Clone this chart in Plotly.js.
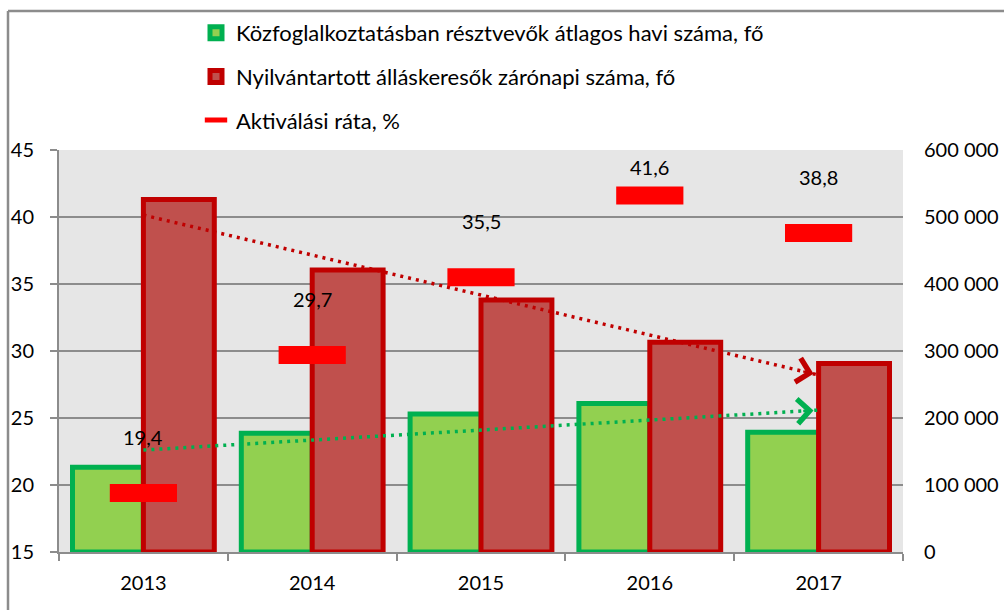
<!DOCTYPE html>
<html>
<head>
<meta charset="utf-8">
<script src="https://cdn.plot.ly/plotly-3.0.1.min.js"></script>
<style>
  html, body { margin: 0; padding: 0; background: #ffffff; }
  #chart { width: 1004px; height: 610px; }
</style>
</head>
<body>
<div id="chart"></div>
<script>
// ---- data ----
const years = ['2013', '2014', '2015', '2016', '2017'];
const publicWorkers = [126400, 177100, 206000, 221800, 178600];   // Közfoglalkoztatásban résztvevők átlagos havi száma, fő
const jobseekers = [526000, 421000, 376000, 313000, 281500];      // Nyilvántartott álláskeresők zárónapi száma, fő
const activationRate = [19.4, 29.7, 35.5, 41.6, 38.8];            // Aktiválási ráta, %
const seriesNames = [
  'Közfoglalkoztatásban résztvevők átlagos havi száma, fő',
  'Nyilvántartott álláskeresők zárónapi száma, fő',
  'Aktiválási ráta, %'
];
const leftTicks = [15, 20, 25, 30, 35, 40, 45];
const rightTicks = [0, 100000, 200000, 300000, 400000, 500000, 600000];

// ---- layout geometry ----
const W = 1004, H = 610;
const M = { l: 59, r: 101, t: 150, b: 58 };
const plotW = W - M.l - M.r, plotH = H - M.t - M.b;
const pxX = px => (px - M.l) / plotW;
const pxY = py => (H - M.b - py) / plotH;
const leftRange = [15, 45];

const FONT = 'Lato, "Open Sans", "Noto Sans", sans-serif';
const GRID = '#8c8c8c';

// linear trend (least squares over category index), as the spreadsheet trendline
function linFit(vals) {
  const n = vals.length;
  const xs = vals.map((_, i) => i);
  const mx = xs.reduce((a, b) => a + b, 0) / n;
  const my = vals.reduce((a, b) => a + b, 0) / n;
  let sxy = 0, sxx = 0;
  xs.forEach((x, i) => { sxy += (x - mx) * (vals[i] - my); sxx += (x - mx) * (x - mx); });
  const k = sxy / sxx;
  return x => my + k * (x - mx);
}
const greenFit = linFit(publicWorkers);
const redFit = linFit(jobseekers);

const BAR_W = 0.42;

// counts (bars, trendlines) on primary axis 'y' (drawn on the right side);
// activation rate on overlaying axis 'y2' (left side) so its marks sit on top
const traces = [
  {
    type: 'bar', name: seriesNames[0], x: years, y: publicWorkers, yaxis: 'y',
    width: BAR_W, offset: -BAR_W,
    marker: { color: '#92d050', line: { color: '#00b050', width: 5 } },
    legendgroup: 'a', hoverinfo: 'x+y'
  },
  {
    type: 'bar', name: seriesNames[1], x: years, y: jobseekers, yaxis: 'y',
    width: BAR_W, offset: 0,
    marker: { color: '#c0504d', line: { color: '#c00000', width: 5 } },
    legendgroup: 'b', hoverinfo: 'x+y'
  },
  {
    type: 'scatter', mode: 'lines', x: years, y: years.map((_, i) => redFit(i)), yaxis: 'y',
    line: { color: '#c00000', width: 3.5, dash: '3px,5px' }, showlegend: false, hoverinfo: 'skip'
  },
  {
    type: 'scatter', mode: 'lines', x: years, y: years.map((_, i) => greenFit(i)), yaxis: 'y',
    line: { color: '#00b050', width: 3.5, dash: '3px,5px' }, showlegend: false, hoverinfo: 'skip'
  },
  {
    type: 'scatter', mode: 'markers', name: seriesNames[2], x: years, y: activationRate, yaxis: 'y2',
    marker: { symbol: 'line-ew', size: 48, color: '#ff0000', line: { color: '#ff0000', width: 18 } },
    legendgroup: 'c', hoverinfo: 'x+y'
  }
];

// value labels for the activation rate
const pxPerUnit = plotH / (leftRange[1] - leftRange[0]);
const annotations = activationRate.map((v, i) => {
  const distTop = (leftRange[1] - v) * pxPerUnit;
  const shift = Math.min(56, distTop - 17);
  return {
    x: i, y: v, xref: 'x', yref: 'y2', yshift: shift,
    text: v.toFixed(1).replace('.', ','), showarrow: false,
    font: { family: FONT, size: 20, color: '#000000' }
  };
});

// arrow heads at the end of the trendlines
const tipX = years.length - 1 - 0.03, tailX = years.length - 1 - 0.1;
[[redFit, '#c00000'], [greenFit, '#00b050']].forEach(([f, c]) => {
  annotations.push({
    x: tipX, y: f(tipX), xref: 'x', yref: 'y',
    ax: tailX, ay: f(tailX), axref: 'x', ayref: 'y',
    showarrow: true, arrowhead: 4, arrowsize: 1.9, arrowwidth: 2.5, arrowcolor: c, text: ''
  });
});

// outer chart frame (left and top edges are visible)
const shapes = [
  { type: 'line', xref: 'paper', yref: 'paper', x0: pxX(8), x1: pxX(8), y0: pxY(630), y1: pxY(11),
    line: { color: '#8c8c8c', width: 2.5 } },
  { type: 'line', xref: 'paper', yref: 'paper', x0: pxX(8), x1: pxX(1020), y0: pxY(11), y1: pxY(11),
    line: { color: '#8c8c8c', width: 2.5 } }
];

const layout = {
  width: W, height: H,
  margin: M,
  paper_bgcolor: '#ffffff',
  plot_bgcolor: '#e6e6e6',
  separators: ', ',
  font: { family: FONT, size: 20, color: '#000000' },
  barmode: 'overlay',
  showlegend: true,
  legend: {
    x: pxX(196), y: pxY(12), xanchor: 'left', yanchor: 'top',
    bgcolor: 'rgba(0,0,0,0)', borderwidth: 0,
    font: { family: FONT, size: 22, color: '#000000' },
    traceorder: 'grouped', tracegroupgap: 12, itemwidth: 30
  },
  xaxis: {
    type: 'category', categoryorder: 'array', categoryarray: years,
    range: [-0.5, years.length - 0.5], autorange: false,
    showline: true, linecolor: GRID, linewidth: 2,
    ticks: 'outside', tickson: 'boundaries', ticklen: 7, tickcolor: GRID, tickwidth: 2,
    showgrid: false, zeroline: false, ticklabelstandoff: 12, tickangle: 0,
    tickfont: { family: FONT, size: 20, color: '#000000' }
  },
  yaxis: {
    side: 'right', range: [0, 600000], autorange: false,
    tickvals: rightTicks, tickformat: ',d',
    showline: false, ticks: '', zeroline: false,
    showgrid: true, gridcolor: GRID, gridwidth: 2,
    ticklabelstandoff: 20,
    tickfont: { family: FONT, size: 20, color: '#000000' }
  },
  yaxis2: {
    overlaying: 'y', side: 'left',
    range: leftRange, autorange: false, tickvals: leftTicks, ticktext: leftTicks.map(String),
    showline: true, linecolor: GRID, linewidth: 2,
    ticks: 'outside', ticklen: 7, tickcolor: GRID, tickwidth: 2,
    showgrid: false, zeroline: false,
    ticklabelstandoff: 12,
    tickfont: { family: FONT, size: 20, color: '#000000' }
  },
  annotations: annotations,
  shapes: shapes
};

Plotly.newPlot('chart', traces, layout, { displayModeBar: false, staticPlot: true });
</script>
</body>
</html>
